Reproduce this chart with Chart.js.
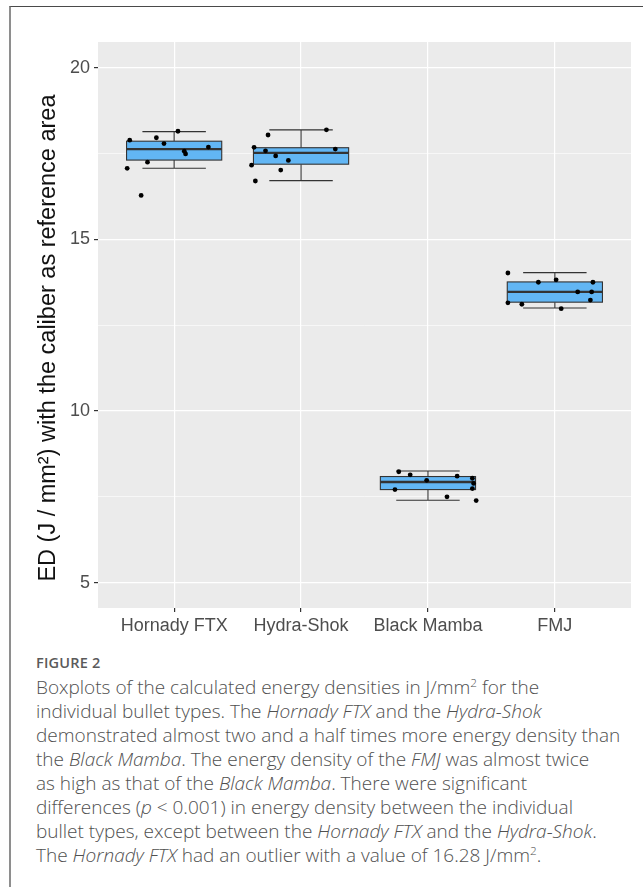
<!DOCTYPE html>
<html>
<head>
<meta charset="utf-8">
<script src="https://cdn.jsdelivr.net/npm/chart.js@4.4.1/dist/chart.umd.min.js"></script>
<style>
  html, body { margin: 0; padding: 0; background: #fff; }
  body { width: 643px; height: 887px; position: relative; overflow: hidden; }
  #frame {
    position: absolute; left: 9px; top: 6px; width: 640px; height: 900px;
    border-top: 1px solid #4a4a4a; border-left: 2px solid #8e8e8e;
  }
  #chartBox { position: absolute; left: 0; top: 0; width: 643px; height: 645px; }
  #caption {
    position: absolute; left: 36px; top: 653px;
    font-family: "Open Sans", sans-serif; color: #505050;
    white-space: nowrap;
  }
  #caption .fig { font-size: 14.5px; font-weight: 600; color: #5a5a5a; letter-spacing: 0.2px; margin-bottom: 3px; }
  #caption .txt { font-size: 19px; line-height: 24px; font-weight: 300; }
  #caption sup { font-size: 0.62em; line-height: 0; vertical-align: super; }
</style>
</head>
<body>
<div id="frame"></div>
<div id="chartBox"><canvas id="grafico" width="643" height="645"></canvas></div>
<div id="caption">
  <div class="fig">FIGURE 2</div>
  <div class="txt">
    Boxplots of the calculated energy densities in J/mm<sup>2</sup> for the<br>
    individual bullet types. The <i>Hornady FTX</i> and the <i>Hydra-Shok</i><br>
    demonstrated almost two and a half times more energy density than<br>
    the <i>Black Mamba</i>. The energy density of the <i>FMJ</i> was almost twice<br>
    as high as that of the <i>Black Mamba</i>. There were significant<br>
    differences (<i>p</i> &lt; 0.001) in energy density between the individual<br>
    bullet types, except between the <i>Hornady FTX</i> and the <i>Hydra-Shok</i>.<br>
    The <i>Hornady FTX</i> had an outlier with a value of 16.28 J/mm<sup>2</sup>.
  </div>
</div>
<script>
// categorias
const categorias = ['Hornady FTX', 'Hydra-Shok', 'Black Mamba', 'FMJ'];

// resumen de cada caja
const bigoteInf = [17.07, 16.71, 7.40, 13.00];
const cuartil1  = [17.31, 17.19, 7.71, 13.17];
const mediana   = [17.63, 17.52, 7.93, 13.47];
const cuartil3  = [17.86, 17.67, 8.09, 13.76];
const bigoteSup = [18.14, 18.19, 8.25, 14.03];

// puntos individuales (desplazamiento horizontal del jitter y valor)
const hornadyX = [-0.35, -0.14, -0.08, 0.03, 0.08, 0.09, 0.27, -0.21, -0.37, -0.26];
const hornadyY = [17.89, 17.96, 17.79, 18.15, 17.57, 17.49, 17.69, 17.25, 17.07, 16.28];
const hydraX = [-0.26, -0.37, -0.28, -0.20, -0.10, -0.39, -0.16, -0.36, 0.20, 0.27];
const hydraY = [18.04, 17.68, 17.58, 17.43, 17.30, 17.16, 17.02, 16.70, 18.19, 17.63];
const mambaX = [-0.23, -0.14, -0.01, 0.23, 0.35, 0.36, 0.35, -0.26, 0.15, 0.38];
const mambaY = [8.23, 8.14, 7.98, 8.10, 8.04, 7.89, 7.74, 7.71, 7.50, 7.39];
const fmjX = [-0.37, -0.13, 0.01, 0.30, 0.18, 0.29, 0.28, -0.37, -0.26, 0.05];
const fmjY = [14.02, 13.75, 13.82, 13.75, 13.47, 13.47, 13.23, 13.15, 13.11, 12.98];

// ticks del eje y
const ticksY = [5, 10, 15, 20];
const ticksYMenores = [7.5, 12.5, 17.5];

const desplX = [hornadyX, hydraX, mambaX, fmjX];
const valoresY = [hornadyY, hydraY, mambaY, fmjY];
const puntos = [];
desplX.forEach(function (lista, i) {
    lista.forEach(function (dx, j) {
        puntos.push({ x: i + dx, y: valoresY[i][j] });
    });
});

// fondo gris del panel
const fondoPanel = {
    id: 'fondoPanel',
    beforeDraw(chart) {
        const { ctx, chartArea } = chart;
        ctx.save();
        ctx.fillStyle = '#EBEBEB';
        ctx.fillRect(chartArea.left, chartArea.top, chartArea.right - chartArea.left, chartArea.bottom - chartArea.top);
        ctx.restore();
    }
};

// cajas y bigotes
const cajas = {
    id: 'cajas',
    beforeDatasetsDraw(chart) {
        const { ctx, scales } = chart;
        const x = scales.x, y = scales.y;
        ctx.save();
        categorias.forEach(function (c, i) {
            const xc = x.getPixelForValue(i);
            const xl = x.getPixelForValue(i - 0.375), xr = x.getPixelForValue(i + 0.375);
            const cl = x.getPixelForValue(i - 0.25), cr = x.getPixelForValue(i + 0.25);
            const yLo = y.getPixelForValue(bigoteInf[i]);
            const yQ1 = y.getPixelForValue(cuartil1[i]);
            const yMe = y.getPixelForValue(mediana[i]);
            const yQ3 = y.getPixelForValue(cuartil3[i]);
            const yHi = y.getPixelForValue(bigoteSup[i]);

            ctx.strokeStyle = '#333333';
            ctx.lineWidth = 1.1;
            ctx.beginPath();
            ctx.moveTo(xc, yHi); ctx.lineTo(xc, yQ3);
            ctx.moveTo(xc, yQ1); ctx.lineTo(xc, yLo);
            ctx.moveTo(cl, yHi); ctx.lineTo(cr, yHi);
            ctx.moveTo(cl, yLo); ctx.lineTo(cr, yLo);
            ctx.stroke();

            ctx.fillStyle = '#62B6F4';
            ctx.fillRect(xl, yQ3, xr - xl, yQ1 - yQ3);
            ctx.strokeRect(xl, yQ3, xr - xl, yQ1 - yQ3);

            ctx.lineWidth = 2.4;
            ctx.beginPath();
            ctx.moveTo(xl, yMe); ctx.lineTo(xr, yMe);
            ctx.stroke();
        });
        ctx.restore();
    }
};

const ctx1 = document.getElementById('grafico');

new Chart(ctx1, {
    type: 'scatter',
    data: {
        datasets: [{
            data: puntos,
            backgroundColor: '#000000',
            borderWidth: 0,
            pointRadius: 2.4,
            pointHoverRadius: 2.4
        }]
    },
    options: {
        responsive: false,
        animation: false,
        layout: { padding: { left: 0, right: 12, top: 42, bottom: 0 } },
        plugins: {
            legend: { display: false },
            tooltip: { enabled: false }
        },
        scales: {
            x: {
                type: 'linear',
                min: -0.6,
                max: 3.6,
                afterBuildTicks: function (scale) {
                    scale.ticks = categorias.map(function (c, i) { return { value: i }; });
                },
                afterFit: function (scale) { scale.height = 37; },
                border: { display: false },
                grid: { color: '#FFFFFF', lineWidth: 1.2, tickColor: '#333333', tickLength: 4 },
                ticks: {
                    autoSkip: false,
                    maxRotation: 0,
                    padding: 3,
                    color: '#4D4D4D',
                    font: { family: '"Liberation Sans", Arial, sans-serif', size: 18 },
                    callback: function (v) { return categorias[v]; }
                }
            },
            y: {
                min: 4.26,
                max: 20.75,
                afterBuildTicks: function (scale) {
                    scale.ticks = ticksY.concat(ticksYMenores).sort(function (a, b) { return a - b; })
                        .map(function (v) { return { value: v }; });
                },
                afterFit: function (scale) { scale.width = 98; },
                border: { display: false },
                grid: {
                    color: '#FFFFFF',
                    lineWidth: function (c) { return ticksY.includes(c.tick.value) ? 1.2 : 0.6; },
                    tickColor: function (c) { return ticksY.includes(c.tick.value) ? '#333333' : 'rgba(0,0,0,0)'; },
                    tickLength: 4
                },
                ticks: {
                    padding: 4,
                    color: '#4D4D4D',
                    font: { family: '"Liberation Sans", Arial, sans-serif', size: 18 },
                    callback: function (v) { return ticksY.includes(v) ? String(v) : ''; }
                },
                title: {
                    display: true,
                    text: 'ED (J / mm²) with the caliber as reference area\u00A0\u00A0\u00A0\u00A0',
                    color: '#111111',
                    padding: { top: 34, bottom: 0 },
                    font: { family: '"Liberation Sans", Arial, sans-serif', size: 23.5 }
                }
            }
        }
    },
    plugins: [fondoPanel, cajas]
});
</script>
</body>
</html>
